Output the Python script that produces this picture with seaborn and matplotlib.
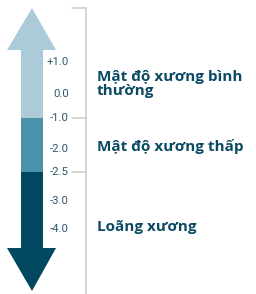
import matplotlib
matplotlib.use('Agg')
import matplotlib.pyplot as plt
from matplotlib.patches import Polygon
import seaborn as sns

# T-score scale (schematic, positions along the arrow in pixel rows)
tick_labels = ['+1.0', '0.0', '-1.0', '-2.0', '-2.5', '-3.0', '-4.0']
tick_pos = [62, 94, 118, 149, 172, 201, 229]

# zones of the arrow: top, bottom, label, label position
zone_top = [50, 118, 172]
zone_bottom = [118, 172, 248]
zone_names = ['Mật độ xương bình\nthường', 'Mật độ xương thấp', 'Loãng xương']
zone_text_pos = [84, 146, 227]
zone_colors = ['#abcbd9', '#4a91aa', '#00475f']

# bracket ticks on the scale line
bracket_pos = [8, 118, 172]

sns.set_theme(style='white')
plt.rcParams['font.family'] = ['Open Sans', 'DejaVu Sans']

fig = plt.figure(figsize=(2.56, 2.94), dpi=100)
ax = fig.add_axes([0, 0, 1, 1])
ax.set_xlim(0, 256)
ax.set_ylim(294, 0)
ax.axis('off')

shaft_x, shaft_w = 21, 22
head_l, head_r, head_c = 7, 56, 32

# shaft segments
heights = [b - t for t, b in zip(zone_top, zone_bottom)]
ax.bar([shaft_x + shaft_w / 2] * 3, heights, bottom=zone_top, width=shaft_w,
       color=zone_colors, linewidth=0)

# arrow heads
ax.add_patch(Polygon([(head_l, zone_top[0]), (head_r, zone_top[0]),
                      (head_c, bracket_pos[0])], closed=True,
                     color=zone_colors[0], lw=0))
ax.add_patch(Polygon([(head_l, zone_bottom[-1]), (head_r, zone_bottom[-1]),
                      (head_c, 291)], closed=True,
                     color=zone_colors[-1], lw=0))

# scale line and brackets
ax.plot([85.5, 85.5], [bracket_pos[0], 294], color='#d0d0d0', lw=1.2)
for p in bracket_pos:
    ax.plot([72, 85.5], [p, p], color='#d0d0d0', lw=1.2)

for lab, p in zip(tick_labels, tick_pos):
    ax.text(69, p, lab, ha='right', va='center', fontsize=8.2,
            color='#2f596e', family=['Roboto', 'DejaVu Sans'])

for name, p in zip(zone_names, zone_text_pos):
    ax.text(97, p, name, ha='left', va='center', fontsize=11,
            fontweight='bold', color='#0b4a63', linespacing=1.0)

fig.savefig('out.png', dpi=100)
